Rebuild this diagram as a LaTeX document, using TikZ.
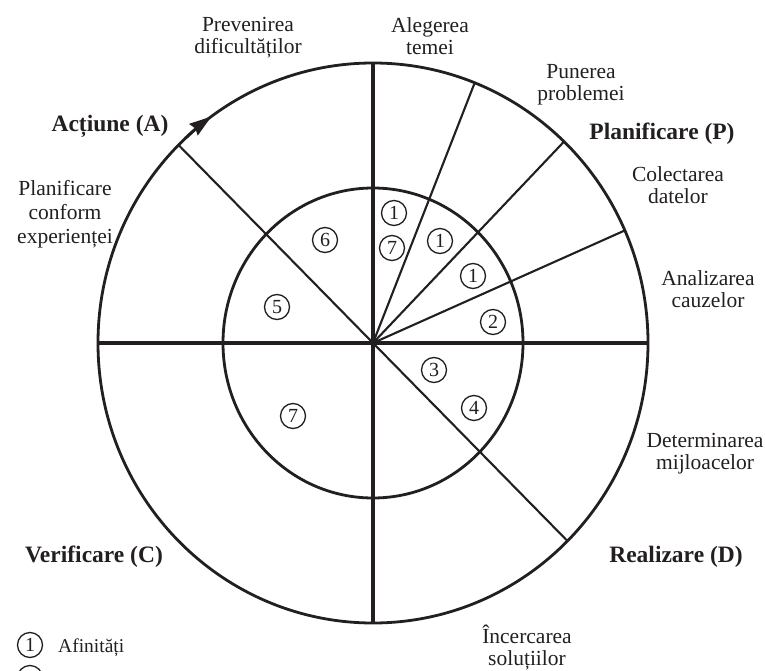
\documentclass[tikz,border=0pt]{standalone}
\usepackage{fontspec}
\setmainfont{Liberation Serif}
\usetikzlibrary{arrows.meta}
\definecolor{ink}{RGB}{35,31,32}

\begin{document}
\begin{tikzpicture}[x=1pt,y=1pt,
  rim/.style={draw=ink, line width=2.8pt},
  axis/.style={draw=ink, line width=4pt},
  spoke/.style={draw=ink, line width=2.1pt},
  lbl/.style={font=\fontsize{21.5}{22}\selectfont, align=center, inner sep=0pt, text=ink},
  ttl/.style={font=\fontsize{23.5}{24}\selectfont\bfseries, inner sep=0pt, anchor=base, text=ink},
  num/.style={circle, draw=ink, line width=1.3pt, minimum size=25pt, inner sep=0pt,
              text=ink, font=\fontsize{20}{20}\selectfont}]
\useasboundingbox (0,0) rectangle (765,-671);
\fill[white] (0,0) rectangle (765,-671);

% centre and rims
\coordinate (c) at (373,-343);
\draw[rim] (c) ellipse [x radius=275, y radius=280];
\draw[rim] (c) ellipse [x radius=150, y radius=155];

% end points on the outer rim
\path (c) ++(90:275 and 280) coordinate (n)
      (c) ++(-90:275 and 280) coordinate (s)
      (c) ++(180:275 and 280) coordinate (w)
      (c) ++(0:275 and 280) coordinate (e)
      (c) ++(68.3:275 and 280) coordinate (p1)
      (c) ++(46:275 and 280) coordinate (p2)
      (c) ++(23.7:275 and 280) coordinate (p3)
      (c) ++(135:275 and 280) coordinate (a1)
      (c) ++(-45:275 and 280) coordinate (d1);

% main axes
\draw[axis] (n) -- (s);
\draw[axis] (w) -- (e);

% thin spokes
\foreach \p in {p1,p2,p3,a1,d1} \draw[spoke] (c) -- (\p);

% direction of the cycle
\draw[rim, -{Stealth[length=22pt, width=14pt, inset=2pt]}]
  (c) ++(133:275 and 280) arc[start angle=133, end angle=126, x radius=275, y radius=280];

% step markers inside the inner rim
\node[num] (m1a) at (394,-213) {1};
\node[num] (m7a) at (392,-248) {7};
\node[num] (m1b) at (440,-241) {1};
\node[num] (m1c) at (473,-276) {1};
\node[num] (m2)  at (493,-322) {2};
\node[num] (m3)  at (434,-370) {3};
\node[num] (m4)  at (474,-408) {4};
\node[num] (m6)  at (325,-240) {6};
\node[num] (m5)  at (277,-307) {5};
\node[num] (m7b) at (293,-416) {7};

% phase titles
\node[ttl] (tP) at (662,-140) {Planificare (P)};
\node[ttl] (tA) at (110,-132) {Acțiune (A)};
\node[ttl] (tC) at (94,-562) {Verificare (C)};
\node[ttl] (tD) at (676,-562) {Realizare (D)};

% step labels
\node[lbl] (l1) at (248,-37.5) {Prevenirea\\dificultăților};
\node[lbl] (l2) at (430,-36.5) {Alegerea\\temei};
\node[lbl] (l3) at (581,-85) {Punerea\\problemei};
\node[lbl] (l4) at (678,-185.5) {Colectarea\\datelor};
\node[lbl] (l5) at (708,-289) {Analizarea\\cauzelor};
\node[lbl] (l6) at (705,-454) {Determinarea\\mijloacelor};
\node[lbl] (l7) at (527,-647.5) {Încercarea\\soluțiilor};
\node[lbl, font=\fontsize{21.5}{24}\selectfont] (l8) at (65,-214) {Planificare\\conform\\experienței};

% legend
\node[num] (k1) at (30,-645) {1};
\node[lbl, anchor=base west, font=\fontsize{19.5}{20}\selectfont] (k1t) at (58,-652) {Afinități};
\begin{scope}
  \clip (0,0) rectangle (765,-671);
  \draw[ink, line width=1.3pt] (30,-678) circle[radius=12.5];
\end{scope}
\end{tikzpicture}
\end{document}
